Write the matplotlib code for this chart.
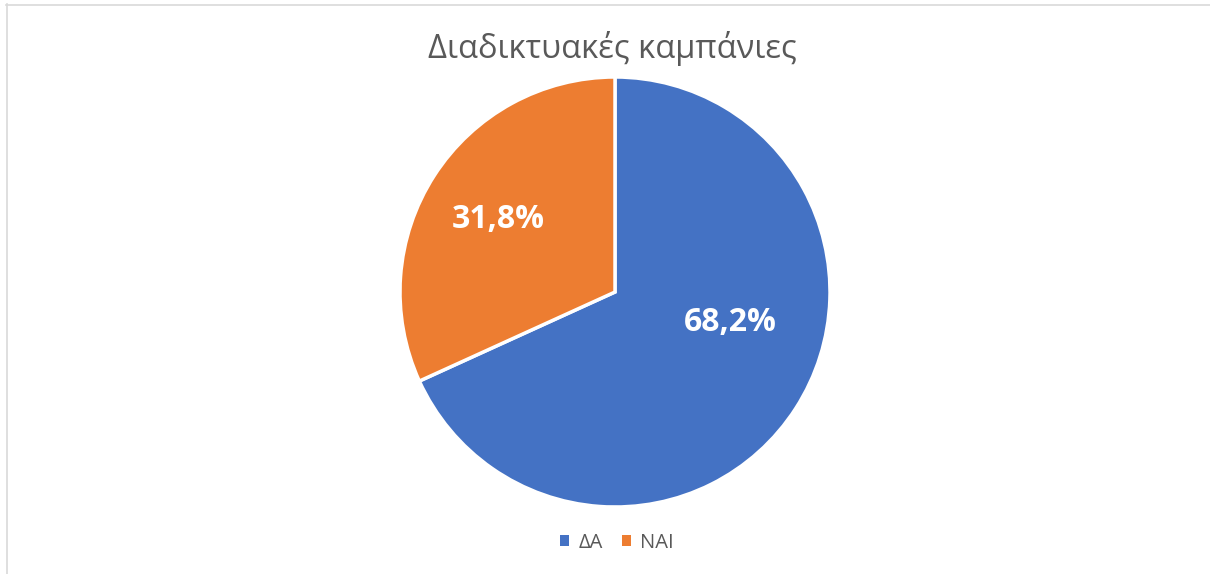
import matplotlib.pyplot as plt
from matplotlib.lines import Line2D

categories = ["ΔΑ", "ΝΑΙ"]
shares = [68.2, 31.8]
value_labels = ["68,2%", "31,8%"]
colors = ["#4472C4", "#ED7D31"]

plt.rcParams['font.family'] = ['Open Sans', 'DejaVu Sans']

W, H = 1210, 574
fig = plt.figure(figsize=(W / 100, H / 100), dpi=100)

# pie: centre ~(615, 292) px, radius ~215 px
cx, cy, r = 615, 292, 215
ax = fig.add_axes([(cx - r) / W, 1 - (cy + r) / H, 2 * r / W, 2 * r / H])
wedges, _ = ax.pie(shares, colors=colors, startangle=90, counterclock=False,
                   wedgeprops=dict(edgecolor='white', linewidth=2.5), radius=1)
ax.set_xlim(-1, 1)
ax.set_ylim(-1, 1)
ax.set_aspect('auto')

# data labels placed inside each wedge
label_pos = [(0.535, -0.14), (-0.544, 0.335)]
for (x, y), txt in zip(label_pos, value_labels):
    ax.text(x, y, txt, ha='center', va='center', color='white',
            fontsize=23, fontweight='bold')

fig.text(612 / W, 1 - 49 / H, "Διαδικτυακές καμπάνιες", ha='center', va='center',
         fontsize=23.5, color='#595959')

leg = fig.legend(wedges, categories, loc='center', bbox_to_anchor=(617 / W, 1 - 543 / H),
                 ncol=2, frameon=False, fontsize=14.5, labelcolor='#595959',
                 handlelength=0.45, handleheight=0.45, handletextpad=0.45,
                 columnspacing=0.95)
for h in leg.legend_handles:
    h.set_edgecolor('none')

# chart area border (top and left visible)
fig.add_artist(Line2D([6 / W, 1], [1 - 4.5 / H] * 2, color='#d9d9d9', lw=1.2))
fig.add_artist(Line2D([6.5 / W] * 2, [0, 1 - 4 / H], color='#d9d9d9', lw=1.2))

fig.savefig('out.png', dpi=100)
